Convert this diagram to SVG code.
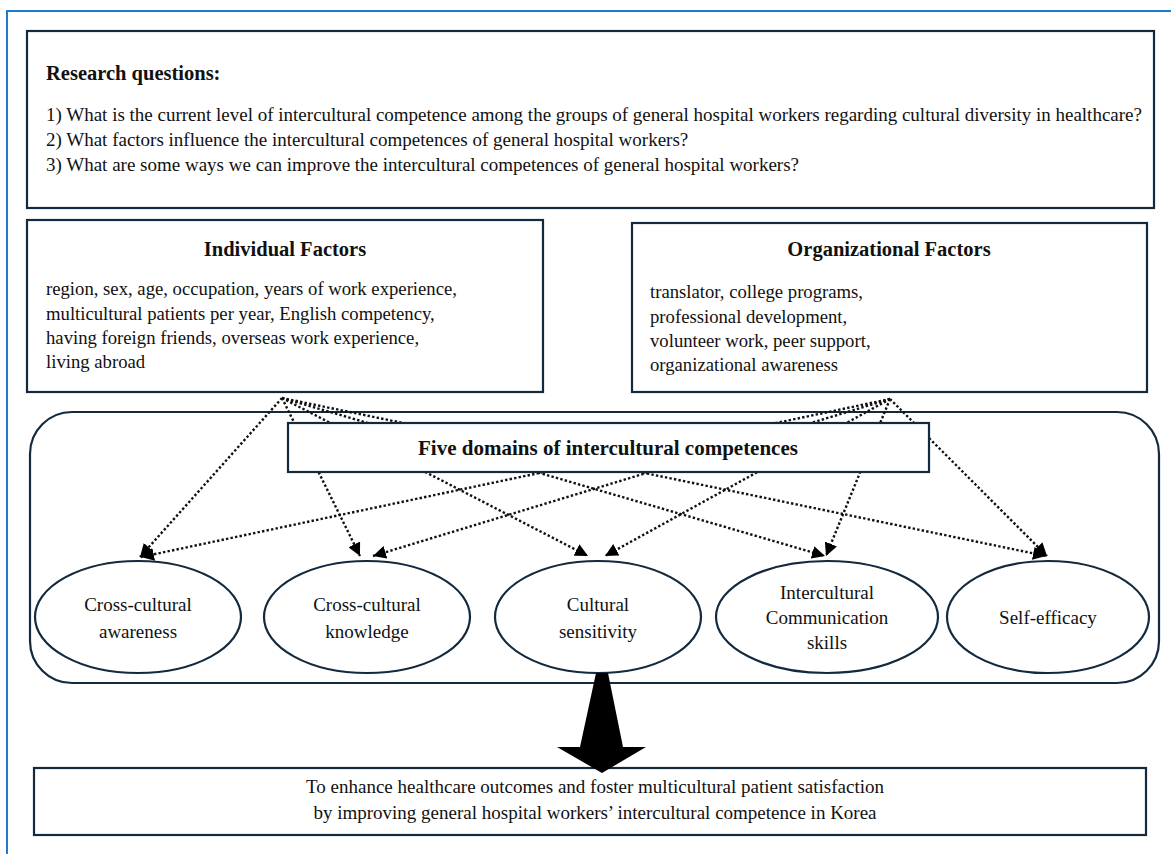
<svg xmlns="http://www.w3.org/2000/svg" width="1171" height="854" viewBox="0 0 1171 854">
<style>
.box{fill:#fff;stroke:#13293d;stroke-width:2.2}
.t{font-family:"Liberation Serif","Times New Roman",serif;font-size:19px;fill:#111}
.s{font-size:18.7px}
.b{font-family:"Liberation Serif","Times New Roman",serif;font-size:20.5px;font-weight:bold;fill:#111}
.c{text-anchor:middle}
.dot{fill:none;stroke:#111;stroke-width:2.4;stroke-dasharray:2.4 2.2}
</style>
<defs>
<marker id="ah" markerUnits="userSpaceOnUse" markerWidth="14" markerHeight="13" refX="13" refY="6.5" orient="auto">
<path d="M0,0 L13,6.5 L0,13 Z" fill="#000"/>
</marker>
</defs>
<rect width="1171" height="854" fill="#fff"/>
<rect x="7" y="11" width="1190" height="900" fill="none" stroke="#1f7bd0" stroke-width="2"/>

<g id="research">
<rect class="box" x="27" y="31" width="1127" height="177"/>
<text class="b" x="46" y="80">Research questions:</text>
<text class="t" x="46" y="121">1) What is the current level of intercultural competence among the groups of general hospital workers regarding cultural diversity in healthcare?</text>
<text class="t" x="46" y="146">2) What factors influence the intercultural competences of general hospital workers?</text>
<text class="t" x="46" y="171">3) What are some ways we can improve the intercultural competences of general hospital workers?</text>
</g>

<g id="individual">
<rect class="box" x="27" y="220" width="516" height="172"/>
<text class="b c" x="285" y="256">Individual Factors</text>
<text class="t s" x="46" y="295">region, sex, age, occupation, years of work experience,</text>
<text class="t s" x="46" y="320">multicultural patients per year, English competency,</text>
<text class="t s" x="46" y="344">having foreign friends, overseas work experience,</text>
<text class="t s" x="46" y="368">living abroad</text>
</g>

<g id="organizational">
<rect class="box" x="632" y="223" width="515" height="169"/>
<text class="b c" x="889" y="256">Organizational Factors</text>
<text class="t s" x="650" y="298">translator, college programs,</text>
<text class="t s" x="650" y="323">professional development,</text>
<text class="t s" x="650" y="347">volunteer work, peer support,</text>
<text class="t s" x="650" y="371">organizational awareness</text>
</g>

<g id="container">
<rect x="30" y="412" width="1129" height="271" rx="42" ry="42" fill="none" stroke="#13293d" stroke-width="2.2"/>
</g>

<g id="connectors">
<path class="dot" d="M282,398 L140,557" marker-end="url(#ah)"/>
<path class="dot" d="M282,398 L360,556" marker-end="url(#ah)"/>
<path class="dot" d="M282,398 L588,556" marker-end="url(#ah)"/>
<path class="dot" d="M282,398 L825,556" marker-end="url(#ah)"/>
<path class="dot" d="M282,398 L1046,556" marker-end="url(#ah)"/>
<path class="dot" d="M890,399 L141,557" marker-end="url(#ah)"/>
<path class="dot" d="M890,399 L373,556" marker-end="url(#ah)"/>
<path class="dot" d="M890,399 L605,556" marker-end="url(#ah)"/>
<path class="dot" d="M890,399 L826,556" marker-end="url(#ah)"/>
<path class="dot" d="M890,399 L1047,556" marker-end="url(#ah)"/>
</g>

<g id="five-domains">
<rect class="box" x="288" y="423" width="641" height="49"/>
<text class="b c" x="608" y="455" style="font-size:21px">Five domains of intercultural competences</text>
</g>

<g id="e1">
<ellipse class="box" cx="138" cy="617" rx="103" ry="56"/>
<text class="t c" x="138" y="611">Cross-cultural</text>
<text class="t c" x="138" y="638">awareness</text>
</g>
<g id="e2">
<ellipse class="box" cx="367" cy="617" rx="103" ry="56"/>
<text class="t c" x="367" y="611">Cross-cultural</text>
<text class="t c" x="367" y="638">knowledge</text>
</g>
<g id="e3">
<ellipse class="box" cx="598" cy="617" rx="103" ry="56"/>
<text class="t c" x="598" y="611">Cultural</text>
<text class="t c" x="598" y="638">sensitivity</text>
</g>
<g id="e4">
<ellipse class="box" cx="827" cy="617" rx="111" ry="56"/>
<text class="t c" x="827" y="599">Intercultural</text>
<text class="t c" x="827" y="624">Communication</text>
<text class="t c" x="827" y="649">skills</text>
</g>
<g id="e5">
<ellipse class="box" cx="1048" cy="617" rx="101" ry="56"/>
<text class="t c" x="1048" y="624">Self-efficacy</text>
</g>

<g id="outcome">
<rect class="box" x="34" y="768" width="1112" height="67"/>
<text class="t c" x="595" y="793">To enhance healthcare outcomes and foster multicultural patient satisfaction</text>
<text class="t c" x="595" y="819">by improving general hospital workers’ intercultural competence in Korea</text>
</g>

<g id="big-arrow">
<polygon points="596,673 608,673 623,747 646,747 602,773 557,747 580,747" fill="#000"/>
</g>
</svg>
